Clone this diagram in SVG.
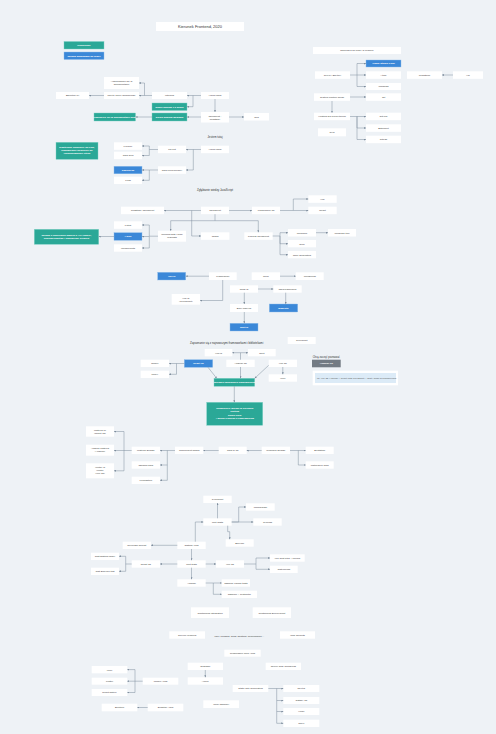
<svg xmlns="http://www.w3.org/2000/svg" width="496" height="734" viewBox="0 0 496 734">
<defs>
<marker id="ah" viewBox="0 0 4 4" markerWidth="2" markerHeight="2" markerUnits="userSpaceOnUse" refX="4" refY="2" orient="auto"><path d="M0,0 L4,2 L0,4 z" fill="#7d8c9c"/></marker>
<style>
.b{fill:#ffffff}
.t{fill:#2ba897;stroke:#7fd3c5;stroke-width:0.4}
.u{fill:#3b88d8;stroke:#8fbdec;stroke-width:0.4}
.g{fill:#737b84}
text{font-family:"Liberation Sans",Arial,sans-serif;font-size:2.5px;fill:#333;text-anchor:middle}
.w{fill:#fff;font-weight:bold}
.l{font-size:2.8px;fill:#333}
.c path{fill:none;stroke:#7d8c9c;stroke-width:0.5;marker-end:url(#ah)}
.c path.n{marker-end:none}
</style>
</defs>
<rect width="496" height="734" fill="#eef2f6"/>

<g id="title"><rect class="b" x="156" y="22" width="88" height="9"/><text x="200" y="27.9" style="font-size:4px">Kierunek Frontend, 2020</text></g>
<g id="leg1"><rect class="t" x="64" y="41.5" width="40" height="7.5"/><text class="w" x="84" y="46.1">Ukończone</text></g>
<g id="leg2"><rect class="u" x="64" y="52" width="40" height="7.5"/><text class="w" x="84" y="56.6">Wiedza wymagana do pracy</text></g>

<g id="a1"><rect class="b" x="104" y="77" width="35" height="12"/><text x="121.5" y="82.2">Angażowanie się w<tspan x="121.5" dy="3">dokumentację</tspan></text></g>
<g id="a2"><rect class="b" x="56" y="92" width="33" height="7"/><text x="72.5" y="96.4">Biblioteki UI</text></g>
<g id="a3"><rect class="b" x="104" y="92" width="35" height="7"/><text x="121.5" y="96.4">Ukryte przez Technologie</text></g>
<g id="a4"><rect class="b" x="152" y="92" width="35" height="7"/><text x="169.5" y="96.4">Interfejs</text></g>
<g id="a5"><rect class="b" x="201" y="92" width="28" height="7"/><text x="215" y="96.4">HTML/CSS</text></g>
<g id="a6"><rect class="t" x="152" y="103" width="35" height="7.5"/><text class="w" x="169.5" y="107.6">Dobry poziom 1 z grafik</text></g>
<g id="a7"><rect class="t" x="152" y="113" width="35" height="8"/><text class="w" x="169.5" y="117.9">Dobry poziom wyglądu</text></g>
<g id="a8"><rect class="t" x="94" y="113" width="41.5" height="8"/><text class="w" x="114.7" y="117.9">Ogarnięcie się w dokumentacji W3C</text></g>
<g id="a9"><rect class="b" x="201" y="112" width="28" height="10.5"/><text x="215" y="116.5">JavaScript -<tspan x="215" dy="3">podstawy</tspan></text></g>
<g id="a10"><rect class="b" x="244" y="113" width="25" height="7.5"/><text x="256.5" y="117.6">Cos</text></g>

<g id="r1"><rect class="b" x="313" y="47" width="88" height="7"/><text x="357" y="51.4">Narzędzia do pracy w zespole</text></g>
<g id="r2"><rect class="b" x="315" y="71.3" width="35" height="7.5"/><text x="332.5" y="75.9">Języki i Edytory</text></g>
<g id="r3"><rect class="u" x="366" y="60" width="35" height="7"/><text class="w" x="383.5" y="64.4">Visual Studio Code</text></g>
<g id="r4"><rect class="b" x="366" y="71.3" width="35" height="7.5"/><text x="383.5" y="75.9">Atom</text></g>
<g id="r5"><rect class="b" x="366" y="83" width="35" height="7"/><text x="383.5" y="87.4">Windows</text></g>
<g id="r6"><rect class="b" x="407" y="71.3" width="35" height="7.5"/><text x="424.5" y="75.9">Webstorm</text></g>
<g id="r7"><rect class="b" x="453" y="71.3" width="30" height="7.5"/><text x="468" y="75.9">VS</text></g>
<g id="r8"><rect class="b" x="314" y="93.3" width="36" height="7.5"/><text x="332" y="97.9">System kontroli wersji</text></g>
<g id="r9"><rect class="b" x="366" y="93.3" width="35" height="7.5"/><text x="383.5" y="97.9">Git</text></g>
<g id="r10"><rect class="b" x="314" y="112.7" width="36" height="7.5"/><text x="332" y="117.3">Hosting dla repozytoriów</text></g>
<g id="r11"><rect class="b" x="366" y="112.7" width="35" height="7.5"/><text x="383.5" y="117.3">GitHub</text></g>
<g id="r12"><rect class="b" x="366" y="124.3" width="35" height="7.5"/><text x="383.5" y="128.9">Bitbucket</text></g>
<g id="r13"><rect class="b" x="366" y="135.7" width="35" height="7.5"/><text x="383.5" y="140.3">GitLab</text></g>
<g id="r14"><rect class="b" x="318" y="128.3" width="28" height="8"/><text x="332" y="133.2">SVN</text></g>

<g id="m0"><text class="l" x="215" y="138">Jestem tutaj</text></g>
<g id="m1"><rect class="t" x="56" y="142.3" width="42" height="17"/><text class="w" x="77" y="148">Elastyczne podejście do CSS,<tspan x="77" dy="3">odpowiednie podejście do</tspan><tspan x="77" dy="3">responsywności stron</tspan></text></g>
<g id="m2"><rect class="b" x="114" y="142.3" width="28" height="7.5"/><text x="128" y="146.9">Flexbox</text></g>
<g id="m3"><rect class="b" x="114" y="151.7" width="28" height="7.5"/><text x="128" y="156.3">CSS Grid</text></g>
<g id="m4"><rect class="b" x="158" y="145.7" width="28" height="7.5"/><text x="172" y="150.3">Layout</text></g>
<g id="m5"><rect class="b" x="201" y="145.7" width="28" height="7.5"/><text x="215" y="150.3">HTML/CSS</text></g>
<g id="m6"><rect class="b" x="158" y="166.3" width="28" height="7.5"/><text x="172" y="170.9">CSS preprocesory</text></g>
<g id="m7"><rect class="u" x="114" y="166.3" width="28" height="7.5"/><text class="w" x="128" y="170.9">Sass/Scss</text></g>
<g id="m8"><rect class="b" x="114" y="176.7" width="28" height="7.3"/><text x="128" y="181.2">Less</text></g>

<g id="j0"><text class="l" x="215" y="191">Zgłębianie wiedzy JavaScript</text></g>
<g id="j1"><rect class="b" x="201" y="206.7" width="28" height="7.5"/><text x="215" y="211.3">JavaScript</text></g>
<g id="j2"><rect class="b" x="121" y="206.7" width="43" height="7.5"/><text x="142.5" y="211.3">Podstawy JavaScript</text></g>
<g id="j3"><rect class="b" x="252" y="206.7" width="28" height="7.5"/><text x="266" y="211.3">Frameworki JS</text></g>
<g id="j4"><rect class="b" x="308.3" y="195.3" width="28.4" height="7.5"/><text x="322.5" y="199.9">Vue</text></g>
<g id="j5"><rect class="b" x="308.3" y="206.7" width="28.4" height="7.5"/><text x="322.5" y="211.3">React</text></g>
<g id="j6"><rect class="b" x="158" y="230.7" width="28" height="11"/><text x="172" y="235.4">Working with HTTP<tspan x="172" dy="3">requests</tspan></text></g>
<g id="j7"><rect class="b" x="201" y="232.3" width="28.4" height="7.5"/><text x="215.2" y="236.9">JSON</text></g>
<g id="j8"><rect class="b" x="244.3" y="232.3" width="28.4" height="7.5"/><text x="258.5" y="236.9">Popular JavaScript</text></g>
<g id="j9"><rect class="b" x="288" y="229" width="28" height="7.5"/><text x="302" y="233.6">Webpack</text></g>
<g id="j10"><rect class="b" x="328" y="229" width="28" height="7.5"/><text x="342" y="233.6">Webpack tool</text></g>
<g id="j11"><rect class="b" x="288" y="240" width="28" height="7.3"/><text x="302" y="244.5">Gulp</text></g>
<g id="j12"><rect class="b" x="288" y="251" width="28" height="7.3"/><text x="302" y="255.5">NPM generators</text></g>
<g id="j13"><rect class="b" x="114" y="221.3" width="28" height="7.5"/><text x="128" y="225.9">Fetch</text></g>
<g id="j14"><rect class="u" x="114" y="232.7" width="28" height="7.6"/><text class="w" x="128" y="237.4">Axios</text></g>
<g id="j15"><rect class="b" x="114" y="244.3" width="28" height="7.4"/><text x="128" y="248.9">WebSockets</text></g>
<g id="j16"><rect class="t" x="34.3" y="229.3" width="64.4" height="15"/><text class="w" x="66.5" y="235.8">Wiedza o pobieraniu danych z API (REST),<tspan x="66.5" dy="3">obsługa zapytań i odpowiedzi serwera</tspan></text></g>

<g id="f1"><rect class="u" x="157.7" y="272.3" width="28" height="7.7"/><text class="w" x="171.7" y="277">Vue.js</text></g>
<g id="f2"><rect class="b" x="209" y="272.3" width="27.7" height="7.7"/><text x="222.8" y="277">Frameworki</text></g>
<g id="f3"><rect class="b" x="251.7" y="272.3" width="28.3" height="7.7"/><text x="265.8" y="277">CMS</text></g>
<g id="f4"><rect class="b" x="295.7" y="272.3" width="28" height="7.7"/><text x="309.7" y="277">Wordpress</text></g>
<g id="f5"><rect class="b" x="171.7" y="294" width="28.3" height="10.7"/><text x="185.8" y="298.5">Vue.js<tspan x="185.8" dy="3">(TypeScript)</tspan></text></g>
<g id="f6"><rect class="b" x="230" y="285.3" width="28" height="7.4"/><text x="244" y="289.9">Node.js</text></g>
<g id="f7"><rect class="b" x="273.3" y="285.3" width="28.4" height="7.4"/><text x="287.5" y="289.9">Jakiś framework</text></g>
<g id="f8"><rect class="u" x="269.3" y="304" width="28.4" height="8"/><text class="w" x="283.5" y="308.9">Magento</text></g>
<g id="f9"><rect class="b" x="230" y="304" width="28" height="8"/><text x="244" y="308.9">Bazy danych</text></g>
<g id="f10"><rect class="u" x="230" y="323.3" width="28" height="7.7"/><text class="w" x="244" y="328">Next.js</text></g>

<g id="s0"><text class="l" x="226.7" y="344">Zapoznanie się z najnowszymi frameworkami i bibliotekami</text></g>
<g id="s1"><rect class="b" x="287.7" y="337" width="28" height="7"/><text x="301.7" y="341.4">Typescript</text></g>
<g id="s2"><rect class="b" x="204.7" y="349" width="27.6" height="7.3"/><text x="218.5" y="353.5">Vue.js</text></g>
<g id="s3"><rect class="b" x="248" y="349" width="27.7" height="7.3"/><text x="261.8" y="353.5">Nuxt</text></g>
<g id="s4"><rect class="b" x="140.7" y="359.7" width="28.3" height="7.3"/><text x="154.8" y="364.2">Redux</text></g>
<g id="s5"><rect class="u" x="184.3" y="359.7" width="28.4" height="7.6"/><text class="w" x="198.5" y="364.4">React JS</text></g>
<g id="s6"><rect class="b" x="226.3" y="359.7" width="28.4" height="7.3"/><text x="240.5" y="364.2">Angular JS</text></g>
<g id="s7"><rect class="b" x="268.7" y="359.7" width="28.3" height="7.3"/><text x="282.8" y="364.2">Vue JS</text></g>
<g id="s8"><rect class="b" x="140.7" y="370.7" width="28.3" height="7.3"/><text x="154.8" y="375.2">MobX</text></g>
<g id="s9"><rect class="t" x="214" y="378.3" width="40.7" height="8"/><text class="w" x="234.3" y="383.2">Wiedza z wybranych frameworków</text></g>
<g id="s10"><rect class="b" x="268.7" y="374.3" width="28.3" height="7.4"/><text x="282.8" y="378.9">Vuex</text></g>
<g id="s11"><text class="l" x="326.3" y="358" style="font-size:2.6px">Chcę zacząć poznawać</text></g>
<g id="s12"><rect class="g" x="312" y="359.7" width="28.7" height="7.6"/><text class="w" x="326.3" y="364.4">Angular JS</text></g>
<g id="s13"><rect class="b" x="312.7" y="370.7" width="85.3" height="14.6"/><rect x="315" y="373" width="81" height="10" fill="#dcebf7"/><text x="317" y="378.9" style="text-anchor:start;font-size:2.3px;fill:#555">np. Vue JS (Angular) + React (with TypeScript) + Nest / Node.js Microservices</text></g>

<g id="c1"><rect class="t" x="206.7" y="402.3" width="56" height="23"/><text class="w" x="234.7" y="408.5">Rozwinięcie wiedzy w kierunku<tspan x="234.7" dy="3.6">Testing</tspan><tspan x="234.7" dy="3.6">Dobry Kurs</tspan><tspan x="234.7" dy="3.6">+ wybór jednego z frameworków</tspan></text></g>
<g id="c2"><rect class="b" x="131.7" y="446.7" width="28.3" height="7.3"/><text x="145.8" y="451.2">Material Design</text></g>
<g id="c3"><rect class="b" x="175" y="446.7" width="28.3" height="7.3"/><text x="189.2" y="451.2">Component-based</text></g>
<g id="c4"><rect class="b" x="218.7" y="446.7" width="28" height="7.3"/><text x="232.7" y="451.2">CSS in JS</text></g>
<g id="c5"><rect class="b" x="261.7" y="446.7" width="28.3" height="7.3"/><text x="275.8" y="451.2">Webpack Design</text></g>
<g id="c6"><rect class="b" x="305.7" y="446.7" width="28" height="7.3"/><text x="319.7" y="451.2">Bootstrap</text></g>
<g id="c7"><rect class="b" x="305.7" y="461.3" width="28" height="7.4"/><text x="319.7" y="465.9">Materialize CSS</text></g>
<g id="c8"><rect class="b" x="131.7" y="461.3" width="28.3" height="7.4"/><text x="145.8" y="465.9">Tailwind CSS</text></g>
<g id="c9"><rect class="b" x="86" y="426.3" width="28" height="10.4"/><text x="100" y="430.8">Material UI<tspan x="100" dy="3">(React JS)</tspan></text></g>
<g id="c10"><rect class="b" x="86" y="444.7" width="28" height="11"/><text x="100" y="449.4">Angular Material<tspan x="100" dy="3">(Angular)</tspan></text></g>
<g id="c11"><rect class="b" x="86" y="463.3" width="28" height="15"/><text x="100" y="467.8">Vuetify w<tspan x="100" dy="3">Vuetify</tspan><tspan x="100" dy="3">(Vue JS)</tspan></text></g>
<g id="c12"><rect class="b" x="131.7" y="476.7" width="28.3" height="7.3"/><text x="145.8" y="481.2">Foundation</text></g>

<g id="t1"><rect class="b" x="203.3" y="495.7" width="28.4" height="7.3"/><text x="217.5" y="500.2">Typescript</text></g>
<g id="t2"><rect class="b" x="203.3" y="518.3" width="28.4" height="7.4"/><text x="217.5" y="522.9">Unit Tests</text></g>
<g id="t3"><rect class="b" x="246" y="503.3" width="28.7" height="7.4"/><text x="260.3" y="507.9">Mocha/Chai</text></g>
<g id="t4"><rect class="b" x="253.3" y="518.3" width="28.4" height="7.4"/><text x="267.5" y="522.9">Cypress</text></g>
<g id="t5"><rect class="b" x="225.7" y="539.3" width="28" height="7.4"/><text x="239.7" y="543.9">Enzyme</text></g>
<g id="t6"><rect class="b" x="177.3" y="541.7" width="28.4" height="7.3"/><text x="191.5" y="546.2">Testing Apps</text></g>
<g id="t7"><rect class="b" x="122.7" y="541.7" width="28.3" height="7.3"/><text x="136.8" y="546.2">Coverage Report</text></g>
<g id="t8"><rect class="b" x="177.3" y="560.3" width="28.4" height="7.4"/><text x="191.5" y="564.9">Unit tests</text></g>
<g id="t9"><rect class="b" x="131.7" y="560.3" width="28.3" height="7.4"/><text x="145.8" y="564.9">React JS</text></g>
<g id="t10"><rect class="b" x="216" y="560.3" width="28" height="7.4"/><text x="230" y="564.9">Vue JS</text></g>
<g id="t11"><rect class="b" x="91" y="552.7" width="28" height="7.3"/><text x="105" y="557.2">Jest/Testing library</text></g>
<g id="t12"><rect class="b" x="91" y="567.7" width="28" height="7.3"/><text x="105" y="572.2">Jest Enzyme test</text></g>
<g id="t13"><rect class="b" x="270" y="554.3" width="34.7" height="7.4"/><text x="287.3" y="558.9">Vue Test Utils + Mocha</text></g>
<g id="t14"><rect class="b" x="270" y="565.7" width="27.7" height="7.3"/><text x="283.8" y="570.2">Jest/Mocha</text></g>
<g id="t15"><rect class="b" x="177.3" y="579.3" width="28.4" height="7.4"/><text x="191.5" y="583.9">Angular</text></g>
<g id="t16"><rect class="b" x="221.7" y="579.3" width="28.3" height="7.4"/><text x="235.8" y="583.9">Jasmine Karma tests</text></g>
<g id="t17"><rect class="b" x="221.7" y="590.7" width="35.3" height="7.3"/><text x="239.3" y="595.2">Jasmine + Protractor</text></g>
<g id="t18"><rect class="b" x="191" y="607.3" width="38" height="10.7"/><text x="210" y="613.5">Continuous Integration</text></g>
<g id="t19"><rect class="b" x="252.7" y="607.3" width="38.3" height="10.7"/><text x="271.8" y="613.5">Continuous Deployment</text></g>

<g id="p1"><rect class="b" x="169.3" y="631.3" width="35.7" height="7.4"/><text x="187.2" y="635.9">Service Workers</text></g>
<g id="p0"><text class="l" x="239.3" y="637" style="font-size:2.5px">Lazy Loading, Code Splitting, Performance...</text></g>
<g id="p2"><rect class="b" x="280" y="631.3" width="35" height="7.4"/><text x="297.5" y="635.9">Web Sockets</text></g>
<g id="p3"><rect class="b" x="224.3" y="649.7" width="36.4" height="7"/><text x="242.5" y="654.1">Progressive Web Apps</text></g>
<g id="p4"><rect class="b" x="187.7" y="662.7" width="35.3" height="7.3"/><text x="205.3" y="667.2">GraphQL</text></g>
<g id="p5"><rect class="b" x="265.7" y="662.7" width="35.3" height="7.3"/><text x="283.3" y="667.2">Server Side Rendering</text></g>
<g id="p6"><rect class="b" x="187.7" y="677.3" width="35.3" height="7.4"/><text x="205.3" y="681.9">Apollo</text></g>
<g id="p7"><rect class="b" x="91.7" y="666" width="35.6" height="7.3"/><text x="109.5" y="670.5">Ionic</text></g>
<g id="p8"><rect class="b" x="91.7" y="677.7" width="35.6" height="7"/><text x="109.5" y="682.1">Flutter</text></g>
<g id="p9"><rect class="b" x="91.7" y="689" width="35.6" height="7"/><text x="109.5" y="693.4">React Native</text></g>
<g id="p10"><rect class="b" x="142.7" y="677.7" width="35.6" height="7"/><text x="160.5" y="682.1">Mobile Apps</text></g>
<g id="p11"><rect class="b" x="101.7" y="703.7" width="35.6" height="7.6"/><text x="119.5" y="708.4">Electron</text></g>
<g id="p12"><rect class="b" x="147.7" y="703.7" width="35.6" height="7.6"/><text x="165.5" y="708.4">Desktop Apps</text></g>
<g id="p13"><rect class="b" x="203.3" y="700.3" width="35.7" height="7.7"/><text x="221.2" y="705">WebAssembly</text></g>
<g id="p14"><rect class="b" x="232.7" y="685" width="35.6" height="7"/><text x="250.5" y="689.4">Static Site Generators</text></g>
<g id="p15"><rect class="b" x="283.3" y="685" width="36" height="7"/><text x="301.3" y="689.4">Next.js</text></g>
<g id="p16"><rect class="b" x="283.3" y="697" width="36" height="7"/><text x="301.3" y="701.4">Gatsby JS</text></g>
<g id="p17"><rect class="b" x="283.3" y="708" width="36" height="7"/><text x="301.3" y="712.4">Hugo</text></g>
<g id="p18"><rect class="b" x="283.3" y="719.7" width="36" height="7.3"/><text x="301.3" y="724.2">Jekyll</text></g>

<g id="connectors" class="c">
<path d="M201,95.5 H187"/>
<path d="M193,95.5 V106.7 H187"/>
<path d="M152,95.5 H139"/>
<path d="M144.5,95.5 V83 H139"/>
<path d="M104,95.5 H89"/>
<path d="M215,99 V112"/>
<path d="M229,117 H244"/>
<path d="M201,117 H187"/>
<path d="M152,117 H135.5"/>

<path d="M350,75 H357 V63.5 H366"/>
<path d="M357,75 H366"/>
<path d="M357,75 V86.5 H366"/>
<path d="M453,75 H442"/>
<path d="M350,97 H366"/>
<path d="M332,101 V112.7"/>
<path d="M350,116.5 H357 H366"/>
<path d="M357,116.5 V128 H366"/>
<path d="M357,116.5 V139.5 H366"/>

<path d="M201,149.5 H186"/>
<path d="M193.3,149.5 V170 H186"/>
<path d="M158,149.5 H149.3 V146 H142"/>
<path d="M149.3,149.5 V155.5 H142"/>
<path d="M158,170 H142"/>
<path d="M149.3,170 V180.3 H142"/>

<path d="M201,210.5 H164"/>
<path d="M229,210.5 H252"/>
<path d="M280,210.5 H293.3 V199 H308.3"/>
<path d="M293.3,210.5 H308.3"/>
<path class="n" d="M215,214.2 V220.7"/>
<path d="M215,220.7 H170.7 V230.7"/>
<path d="M215,220.7 H258.3 V232.3"/>
<path d="M191.7,210.5 V236 H201"/>
<path d="M158,236.2 H149.3 V225 H142"/>
<path d="M149.3,236.5 H142"/>
<path d="M149.3,236.5 V248 H142"/>
<path d="M114,236.5 H98.7"/>
<path d="M272.7,236 H280 V232.7 H288"/>
<path d="M280,236 V243.7 H288"/>
<path d="M280,236 V254.7 H288"/>
<path d="M316,232.7 H328"/>

<path d="M209,276.2 H185.7"/>
<path d="M222.7,280 V300.5 H200"/>
<path d="M280,276.2 H295.7"/>
<path d="M258,289 H273.3"/>
<path d="M285.7,292.7 V304"/>
<path d="M244.3,292.7 V304"/>
<path d="M244.3,312 V323.3"/>

<path class="n" d="M240.5,359.7 V352.7"/>
<path d="M240.5,352.7 H232.3"/>
<path d="M240.5,352.7 H248"/>
<path d="M184.3,363.5 H169"/>
<path d="M176.5,363.5 V374.3 H169"/>
<path d="M208,367.3 L216.7,378.3"/>
<path d="M240.5,367 V378.3"/>
<path d="M268.7,365.3 L254.7,378.3"/>
<path d="M282.8,367 V374.3"/>
<path d="M234.3,386.3 V402.3"/>

<path d="M175,450.5 H160"/>
<path d="M167.3,450.5 V465 H160"/>
<path d="M167.3,465 V480.3 H160"/>
<path d="M131.7,450.5 H124 V431.5 H114"/>
<path d="M124,450.5 H114"/>
<path d="M124,450.5 V470.8 H114"/>
<path d="M218.7,450.5 H203.3"/>
<path d="M261.7,450.5 H246.7"/>
<path d="M290,450.5 H305.7"/>
<path d="M298.3,450.5 V465 H305.7"/>

<path d="M217.5,518.3 V503"/>
<path d="M231.7,522 H238.7 V507 H246"/>
<path d="M231.7,522 H253.3"/>
<path d="M227.7,525.7 V531.7 H229.7 V539.3"/>
<path d="M195.3,541.7 V522 H203.3"/>
<path d="M177.3,545.3 H151"/>

<path d="M191.5,549 V560.3"/>
<path d="M177.3,564 H160"/>
<path d="M205.7,564 H216"/>
<path d="M191.5,567.7 V579.3"/>
<path d="M131.7,564 H125.7 V556.3 H119"/>
<path d="M125.7,564 V571.3 H119"/>
<path d="M244,564 H256 V558 H270"/>
<path d="M256,564 V569.3 H270"/>
<path d="M205.7,583 H221.7"/>
<path d="M213.3,583 V594.3 H221.7"/>

<path d="M205.3,670 V677.3"/>
<path d="M142.7,681.2 H135 V669.6 H127.3"/>
<path d="M135,681.2 H127.3"/>
<path d="M135,681.2 V692.5 H127.3"/>
<path d="M147.7,707.5 H137.3"/>
<path d="M268.3,688.5 H283.3"/>
<path d="M276.7,688.5 V700.5 H283.3"/>
<path d="M276.7,700.5 V711.5 H283.3"/>
<path d="M276.7,711.5 V723.3 H283.3"/>
</g>
</svg>
